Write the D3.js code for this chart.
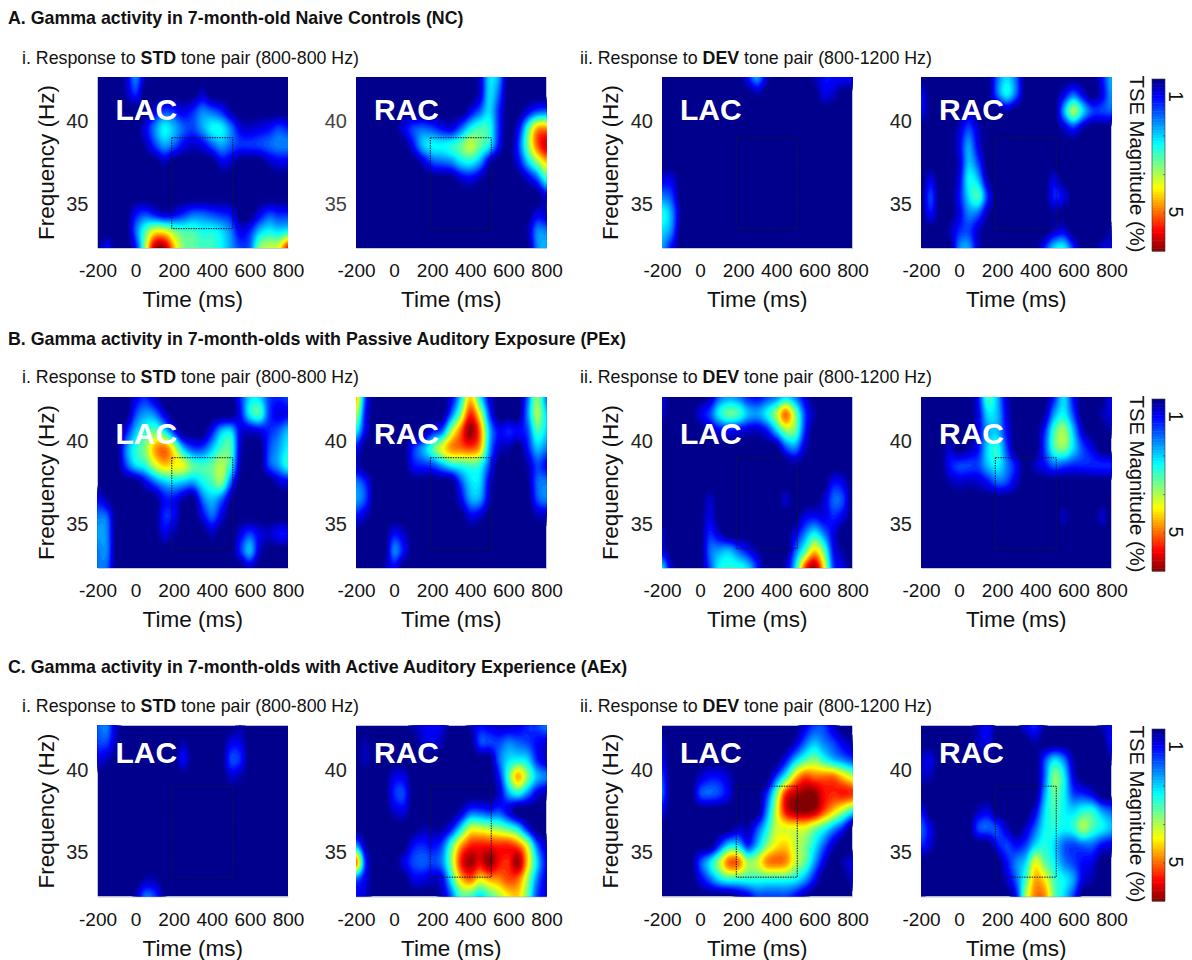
<!DOCTYPE html>
<html>
<head>
<meta charset="utf-8">
<title>Gamma activity</title>
<script src="https://cdn.jsdelivr.net/npm/d3@7/dist/d3.min.js"></script>
<style>
  body { margin: 0; background: #fff; }
  svg { display: block; font-family: "Liberation Sans", Arial, sans-serif; }
</style>
</head>
<body>
<svg id="chart" width="1192" height="960"></svg>
<script>
// ── Data: TSE magnitude (top row = highest frequency) ──
const TIMES = d3.range(-200, 801, 50);
const FREQS = [42.67, 41.63, 40.6, 39.57, 38.53, 37.5, 36.47, 35.43, 34.4, 33.37, 32.33];
const TICKS_X = [-200, 0, 200, 400, 600, 800];
const TICKS_Y = [35, 40];
const WINDOW_MS = [190, 510];
const WINDOW_HZ = [33.5, 39];

const A_STD_LAC = [
  [0,0,0,.6,1.8,.4,0,0,0,0,0,0,0,0,0,0,0,0,0,0,0],
  [0,0,0,.4,1.2,0,0,0,0,0,0,.6,0,0,0,0,0,0,0,0,0],
  [0,0,0,0,0,0,.8,1.4,1.2,.8,1.2,1.8,1.6,1.2,.4,0,0,0,0,0,0],
  [0,0,0,0,0,.8,1.8,2.6,2.2,1.6,1.4,2,2.6,2.6,1.8,.8,.6,.8,1,1.4,1.2],
  [0,0,0,0,0,.4,1.3,2,1.6,.9,.6,.8,1.5,2,1.6,1.3,1.3,1.4,1.6,1.8,1.8],
  [0,0,0,0,0,0,0,.5,0,0,0,0,0,.8,.6,0,0,0,.5,.8,.8],
  [0,0,0,0,0,0,0,0,0,0,0,0,0,0,0,0,0,0,0,0,0],
  [0,0,0,0,0,0,0,0,0,0,0,0,0,0,0,0,0,0,0,0,0],
  [0,0,0,0,1,1.4,1,.6,.8,1.2,1.6,1.6,1.4,1.2,1,0,0,.8,1.4,1.2,1.2],
  [0,0,0,0,1.6,3,4,4,3.4,3,3,2.7,2.7,2.4,1.8,.8,1.2,2.2,2.6,2.4,2.6],
  [0,1,0,0,1,3.5,6,6.2,4.6,3.4,3.2,3,3,2.6,2,1.4,1.6,3.4,3.8,4,5.5]
];
const A_STD_RAC = [
  [0,0,0,0,0,0,0,0,0,0,0,0,0,.6,2.4,2,0,0,0,0,0],
  [0,0,0,0,0,0,0,0,0,0,0,0,0,.6,2.4,1.6,0,0,0,0,0],
  [0,0,0,0,0,0,0,0,0,0,0,0,.8,1.6,2.4,1.2,0,0,.8,1.4,1.6],
  [0,0,0,0,0,.8,1.4,1.6,1.4,1,.8,1.6,2.6,3,2.8,1.2,0,.8,2.8,4.6,4.8],
  [0,0,0,0,0,0,1,2.2,2.6,2.6,2.8,3.2,3.8,3.2,2.6,1,0,1.2,3.2,5,5.9],
  [0,0,0,0,0,0,0,.6,1.4,1.6,1.8,2.4,2.6,2,.6,0,0,.8,2.2,3.4,4.4],
  [0,0,0,0,0,0,0,0,0,0,0,.6,.8,.4,0,0,0,0,.6,1.4,2.8],
  [0,0,0,0,0,0,0,0,0,0,0,0,0,0,0,0,0,0,0,0,.8],
  [0,0,0,0,0,0,0,0,0,0,0,0,0,0,0,0,0,0,0,.8,.6],
  [0,0,0,0,0,0,0,0,0,0,0,0,0,0,0,0,0,0,.4,1.8,1.8],
  [0,0,0,0,0,0,0,0,0,0,0,0,0,0,0,0,0,0,0,1.8,2.2]
];
const A_DEV_LAC = [
  [0,0,0,0,0,0,0,0,0,1,2,.6,0,0,0,0,.4,1,1,1,1],
  [0,0,0,0,0,0,0,0,0,0,.4,0,0,0,0,0,0,.8,.6,0,0],
  [0,0,0,0,0,0,0,0,0,0,0,0,0,0,0,0,0,0,0,0,0],
  [0,0,0,0,0,0,0,0,0,0,0,0,0,0,0,0,0,0,0,0,0],
  [0,0,0,0,0,0,0,0,0,0,0,0,0,0,0,0,0,0,0,0,0],
  [0,0,0,0,0,0,0,0,0,0,0,0,0,0,0,0,0,0,0,0,0],
  [.8,.8,0,0,0,0,0,0,0,0,0,0,0,0,0,0,0,0,0,0,0],
  [1.8,1.4,0,0,0,0,0,0,0,0,0,0,0,0,0,0,0,0,0,0,0],
  [2.8,2,.3,0,0,0,0,0,0,0,0,0,0,0,0,0,0,0,0,0,0],
  [2.4,1.8,0,0,0,0,0,0,0,0,0,0,0,0,0,0,0,0,0,0,0],
  [2,1,0,0,0,0,0,0,0,0,0,0,0,0,0,0,0,0,0,0,0]
];
const A_DEV_RAC = [
  [0,0,0,0,0,0,0,0,1.6,2.4,1.6,0,0,0,0,0,0,0,0,1,2.2],
  [1,0,0,0,0,0,0,0,1.6,2.6,1.6,0,0,0,0,.8,1.6,.8,0,.8,2],
  [1,0,0,0,0,.6,0,0,0,.4,0,0,0,0,0,2,3.6,2.4,1.4,1.4,1.6],
  [0,0,0,0,.6,1.4,.6,0,0,0,0,0,0,0,0,.6,1.2,.4,0,0,0],
  [0,0,0,0,.8,2,.8,0,0,0,0,0,0,0,0,0,0,0,0,0,0],
  [0,0,0,0,.6,2.2,1.4,0,0,0,0,0,0,0,0,0,0,0,0,0,0],
  [0,.8,0,0,.8,2.6,2.2,.4,0,0,0,0,0,0,.8,0,0,0,0,0,0],
  [0,1.4,0,0,1,2.4,3,1.2,0,0,0,0,0,0,1.2,.8,0,0,0,0,0],
  [0,1,0,0,.8,1.8,1.6,.4,0,0,0,0,0,0,.3,0,0,0,0,0,0],
  [0,0,0,.4,1.2,1.4,.6,0,0,0,0,0,0,0,.6,.8,0,0,0,0,.4],
  [0,0,0,0,1.8,2,.6,0,0,0,0,0,0,1.2,2.4,2.6,1.2,0,0,.6,.8]
];

const B_STD_LAC = [
  [0,0,0,0,.8,1.2,.6,0,0,0,0,0,0,0,0,1.2,2.4,2.4,1.4,1.2,1.4],
  [0,0,0,0,1.4,2,1.8,.8,0,0,0,0,0,0,0,1,2.6,3,1.4,.8,1],
  [0,0,0,1,2.2,2.8,3.2,2.6,1.2,0,0,0,1,2.2,2.4,.8,.6,.8,1.2,1.6,2.2],
  [0,0,0,1.8,2.8,3.4,4.6,5,4,2.2,1.4,1.4,2.2,3,3,.6,0,0,1.4,2,2.6],
  [0,0,0,1.4,2.4,2.8,3.8,4.4,4.2,4,3.2,3,3.2,3.7,2.8,.4,0,0,1.4,2,2.8],
  [0,0,0,0,0,.8,1.6,2.2,2.4,2.2,2,2.6,3,3.4,1.6,0,0,0,0,.6,.8],
  [1,.4,0,0,0,0,0,1,1,.4,0,1.6,2.2,1.6,.4,0,0,0,0,0,0],
  [1.8,1.6,0,0,0,0,0,1.2,1,0,0,.8,1.6,.8,0,0,0,0,0,0,0],
  [2,1.8,0,0,0,0,0,.8,.4,0,0,0,.5,0,0,.8,1.4,.8,.6,1,1],
  [1.8,1.8,0,0,0,0,0,0,0,0,0,0,0,0,0,1.2,2.2,.6,0,0,0],
  [1.8,1.6,0,0,0,0,0,0,0,0,0,0,0,0,0,0,.6,0,0,0,0]
];
const B_STD_RAC = [
  [4.6,1.4,0,0,0,0,0,0,0,0,.8,2.4,4.4,2.6,.8,0,0,0,1.6,3.4,1.8],
  [3.8,1,0,0,0,0,0,0,0,0,1.6,3.4,5.4,4,1.4,0,0,0,1.8,3.6,2.4],
  [2.6,.8,0,0,0,0,0,0,1,1.6,3.6,5,6.3,5,2.2,1,1.2,1,1.4,3,2.4],
  [1,0,0,0,0,0,1.2,2,3,4,4.8,5,5.2,4.6,2,.6,.4,0,1,2.2,1.8],
  [.6,0,0,0,0,0,1,1.2,1.4,2,2.6,2.8,3,2.8,1.4,0,0,0,.4,1.4,1],
  [1.8,1.2,0,0,0,0,0,0,0,0,0,1.4,2.4,2.4,.8,0,0,0,.2,1.6,1.8],
  [2,1.4,0,0,0,0,0,0,0,0,0,.8,2,2,.6,0,0,0,0,1.4,1.8],
  [1,.5,0,0,0,0,0,0,0,0,0,0,.8,.6,0,0,0,0,0,.4,.5],
  [0,0,0,0,1,.6,0,0,0,0,0,0,0,0,0,0,0,0,0,0,0],
  [0,0,0,0,1.8,1,0,0,0,0,0,0,0,0,0,0,0,0,0,0,0],
  [0,0,0,.4,.9,0,0,0,0,0,0,0,0,0,0,0,0,0,0,0,0]
];
const B_DEV_LAC = [
  [.8,0,0,0,0,.4,1.6,2,1.8,1.2,1,1.4,1.8,2.4,1.8,.8,0,0,0,0,0],
  [.6,0,0,0,.8,1.4,2.6,3.2,3,2.2,2,2.6,3.6,5,3.4,1.4,.4,0,0,0,0],
  [0,0,0,0,0,.4,.8,1,.8,.6,.5,1,2.2,3.4,3.2,1.2,0,0,0,0,0],
  [0,0,0,0,0,0,0,0,0,0,0,0,0,1.4,1.8,.6,0,0,0,0,0],
  [0,0,0,0,0,0,0,0,0,0,0,0,0,0,.3,0,0,0,0,0,0],
  [0,0,0,0,0,0,0,0,0,0,0,0,0,0,0,0,0,0,1,.8,0],
  [0,0,0,0,0,.6,0,0,0,0,0,0,0,.6,0,0,0,.6,1.6,1.4,0],
  [0,0,0,0,0,.8,0,0,0,0,0,0,0,0,0,.8,1,.8,1.2,.8,0],
  [.5,0,0,0,0,1.2,.6,0,0,0,0,0,0,0,.8,1.8,2.6,1.8,.8,0,0],
  [.8,0,0,0,0,1.6,2,2.2,1.6,1,.4,0,0,0,1.6,3,4.4,3.2,1,.3,0],
  [2.4,.6,0,0,0,1.4,2.6,2.8,2.8,2.4,1.2,0,0,.6,2.4,5.2,6.2,4.2,1.4,.8,0]
];
const B_DEV_RAC = [
  [0,0,0,0,0,0,1,3,2.2,.6,0,0,0,0,1.2,2.4,1,0,0,0,1],
  [0,0,0,0,0,0,.8,2.4,2.2,.8,0,0,0,.4,2,2.6,1.4,0,0,.4,.8],
  [0,0,0,0,0,0,.8,2,2.2,1,0,0,0,1.2,3,3.6,2.2,.6,0,0,.4],
  [0,0,0,.6,0,.4,1,2.4,2.8,1.4,0,0,0,1.4,3,3.4,2.4,1.4,.8,0,0],
  [0,0,0,1,1.4,1.4,1.4,2.2,2.6,1.8,1,0,.6,1,1.6,1.4,1.2,1.2,1.2,1.2,1.2],
  [0,0,0,.4,.6,.5,.6,1,1.6,1.4,.6,0,0,0,0,0,0,0,0,0,0],
  [0,0,0,0,0,0,0,0,0,0,0,0,0,0,0,0,0,0,0,0,0],
  [0,0,0,0,0,0,0,0,0,0,0,0,0,0,0,.5,0,0,0,.6,0],
  [0,0,0,0,0,0,0,0,0,0,0,0,0,0,0,0,0,0,0,0,0],
  [0,0,0,0,0,0,0,0,0,0,0,0,0,0,0,0,0,0,0,0,0],
  [0,0,0,0,0,0,0,0,0,0,0,0,0,0,0,0,0,0,0,0,0]
];

const C_STD_LAC = [
  [1.6,1.8,.5,0,0,0,0,0,0,0,0,0,0,0,0,.3,0,0,0,0,0],
  [1.4,1.4,.4,0,0,0,0,0,0,.4,0,0,0,0,.8,.8,0,0,0,0,0],
  [.8,.5,0,0,0,0,0,0,0,1,0,0,0,0,1.4,1.2,0,0,0,0,0],
  [0,0,0,0,0,0,0,0,0,0,0,0,0,0,.6,.4,0,0,0,0,0],
  [0,0,0,0,0,0,0,0,0,0,0,0,0,0,0,0,0,0,0,0,0],
  [0,0,0,0,0,0,0,0,0,0,0,0,0,0,0,0,0,0,0,0,0],
  [0,0,0,0,0,0,0,0,0,0,0,0,0,0,0,0,0,0,0,0,0],
  [0,0,0,0,0,0,0,0,0,0,0,0,0,0,0,0,0,0,0,0,0],
  [0,0,0,0,0,0,0,0,0,0,0,0,0,0,0,0,0,0,0,0,0],
  [0,0,0,0,0,.4,.4,0,0,0,0,0,0,0,0,0,0,0,0,0,0],
  [0,0,0,0,.4,1.7,1.4,.3,0,0,0,0,0,0,0,0,0,0,0,0,0]
];
const C_STD_RAC = [
  [0,0,0,0,0,0,.4,.8,1,.8,0,0,.4,1,.8,.6,.6,.8,1.2,1.4,1.8],
  [0,.4,0,0,0,0,0,.6,.8,.4,0,0,0,1.4,1.4,1.4,1.8,1.6,1.4,1,.8],
  [0,.5,0,0,0,0,0,0,0,0,0,0,0,0,0,1.6,2.4,2.6,2.4,1.2,.6],
  [0,0,0,0,.8,.8,0,0,0,0,0,0,0,0,0,1,3,4.6,3.4,2.2,1.8],
  [0,0,0,0,1.2,1.4,0,0,0,0,0,0,0,0,0,.6,2,2.6,1.8,.8,.4],
  [0,0,0,0,.6,.8,0,0,0,0,0,.5,1.4,1.4,1.2,1.4,.8,0,0,0,0],
  [0,0,0,0,0,0,0,.4,.3,.3,1,2.4,3.8,3.8,3.6,3.4,3,2.4,1,0,0],
  [2,.4,0,0,0,0,1,1.2,1,1.4,3,4.6,5.4,5.5,5.5,5.4,5.4,5,3.8,1.6,.6],
  [5,1.2,0,0,0,.8,1.4,1.6,1.4,1.8,3.4,5.4,6.2,5.7,6.3,5.6,5.4,6.2,4.4,2.4,1],
  [1.6,.8,0,0,0,0,.8,.8,.6,.8,2.6,4.4,5,4.2,4.6,4.8,5.2,5,3.6,1.8,.8],
  [1,.6,0,0,0,0,0,0,0,.5,1.6,3,3,2.4,3,3.6,4.2,4.4,3.2,1.4,.8]
];
const C_DEV_LAC = [
  [0,0,0,0,0,0,0,0,0,0,0,0,0,0,0,.8,1.4,1.4,.6,0,0],
  [.5,0,0,0,0,0,0,0,0,0,0,0,0,0,.6,1.6,2.2,1.8,1.4,.8,.4],
  [.8,0,0,0,0,0,0,0,0,0,0,0,0,1,2.2,3,3.4,2.8,2.2,1.8,1.4],
  [1.4,0,0,0,.6,1,1,.6,0,0,0,0,1.4,2.8,4.4,5.2,5,5,5,4.4,3.8],
  [1.6,0,0,0,1.4,1.6,1.4,.8,0,0,0,1.2,3.2,5.4,6,6.3,6.3,5.6,5.4,5.5,5.4],
  [.8,0,0,0,0,0,0,0,0,0,0,1.8,3.8,5.6,6.2,6.3,6.1,5.2,4.4,3.6,2.8],
  [0,0,0,0,0,0,0,0,.6,.4,1.4,2.6,3.8,4,4,4,3.4,2.8,2,1.2,0],
  [0,0,0,0,0,0,1.2,2.4,2.4,1.2,2.2,3.4,4.2,4.4,3.8,3.4,2.6,1.6,.6,0,0],
  [0,0,0,0,1.4,2.4,3.6,5,5,3.6,3.8,4.8,5,4.8,3.8,3.2,2,.8,0,.4,.8],
  [0,0,0,0,.8,1.6,2.4,2.8,2.8,2.8,2.8,2.8,2.8,2.8,2.6,2,1,0,0,0,.6],
  [0,0,0,0,0,0,0,0,.4,.8,1.4,1.4,1.4,1.4,1,.4,0,0,0,0,0]
];
const C_DEV_RAC = [
  [0,0,0,0,0,0,.5,1,0,0,0,.8,1.2,.3,0,0,0,0,0,.4,.9],
  [0,0,0,0,0,0,.5,.8,0,0,0,0,.4,0,0,0,0,0,0,0,1],
  [.6,.8,0,0,0,0,0,0,0,0,0,0,0,1.4,2.4,1.8,.4,0,0,0,.3],
  [.6,.4,0,0,0,0,0,0,0,0,0,0,0,1.6,3.4,2.6,.8,0,0,0,0],
  [0,0,0,0,0,0,0,0,0,0,0,0,0,2,3.2,2.6,1.4,1.2,.8,0,0],
  [1,0,0,0,0,0,.5,.8,0,0,0,0,.8,2.4,3,2.6,2.4,2.8,2.8,2,1.6],
  [1.6,.8,0,0,0,0,1.4,1.6,1.4,.6,0,.6,1.6,2.6,2.8,2.6,2.8,3.6,3,2.6,2.2],
  [1.2,.6,0,0,0,0,0,0,1,1.4,1,1.4,2.4,2.8,2.4,1.6,1.4,1.6,1.6,1,.8],
  [0,0,0,0,0,0,0,0,0,1,1.8,2.4,4,3.2,2.6,1.8,1.4,1,.8,0,0],
  [0,0,0,0,0,0,0,0,0,.6,1.6,3,4.6,4.2,3,2.6,2,.8,.4,0,0],
  [.3,0,0,0,0,0,0,0,0,0,1,3.6,4.9,4.8,3.2,2.4,1.4,0,0,0,0]
];

const ROW_TITLES = [
  'A. Gamma activity in 7-month-old Naive Controls (NC)',
  'B. Gamma activity in 7-month-olds with Passive Auditory Exposure (PEx)',
  'C. Gamma activity in 7-month-olds with Active Auditory Experience (AEx)'
];
const ROW_PANELS = [
  [A_STD_LAC, A_STD_RAC, A_DEV_LAC, A_DEV_RAC],
  [B_STD_LAC, B_STD_RAC, B_DEV_LAC, B_DEV_RAC],
  [C_STD_LAC, C_STD_RAC, C_DEV_LAC, C_DEV_RAC]
];
const PANEL_NAMES = ['LAC', 'RAC', 'LAC', 'RAC'];

// ── Layout ───────────────────────────────────────────────────────────────────
const PANEL_X = [97.5, 356, 662, 921];
const PANEL_W = 190.5;
const PANEL_H = 171;
const ROW_TOP = [77, 397, 725.5];
const ROW_TITLE_Y = [24, 345, 673];
const ROW_SUB_Y = [64, 383, 712];
const ROW_NAME_Y = [120, 444, 763];
const BAR_TOP = [79, 399, 729];
const BAR_H = 172;
const BAR_TICKS = [1, 2.33, 3.67, 5];

const svg = d3.select('#chart');

// jet colormap on the TSE scale, dark blue floor, dark red ceiling
const color = d3.scaleLinear()
  .domain([0.1, 0.95, 2.55, 4.1, 5.55, 6.3])
  .range(['#00008c', '#0000ff', '#00ffff', '#ffff00', '#ff0000', '#800000'])
  .clamp(true);
const LEVELS = d3.range(0.16, 6.3, 0.12);

// ── Display smoothing of a coarse grid (same idea as imagesc + interp) ───────
function catmull(p0, p1, p2, p3, t) {
  return 0.5 * (2 * p1 + (p2 - p0) * t + (2 * p0 - 5 * p1 + 4 * p2 - p3) * t * t
    + (3 * p1 - p0 - 3 * p2 + p3) * t * t * t);
}
const SMOOTH = 5;
function upsample(rows) {
  const n = rows.length, m = rows[0].length;
  const w = (m - 1) * SMOOTH + 1, h = (n - 1) * SMOOTH + 1;
  const at = (j, i) => rows[Math.max(0, Math.min(n - 1, j))][Math.max(0, Math.min(m - 1, i))];
  const out = new Float64Array(w * h);
  for (let y = 0; y < h; y++) {
    const j = Math.min(Math.floor(y / SMOOTH), n - 2), v = y / SMOOTH - j;
    for (let x = 0; x < w; x++) {
      const i = Math.min(Math.floor(x / SMOOTH), m - 2), u = x / SMOOTH - i;
      const col = [-1, 0, 1, 2].map(d =>
        catmull(at(j + d, i - 1), at(j + d, i), at(j + d, i + 1), at(j + d, i + 2), u));
      out[y * w + x] = catmull(col[0], col[1], col[2], col[3], v);
    }
  }
  return { w, h, out };
}

function drawPanel(rows, name, px, top, nameY, showLabel, clipId, tickFill) {
  const x = d3.scaleLinear().domain([-200, 800]).range([px, px + PANEL_W]);
  const y = d3.scaleLinear().domain([32.33, 42.67]).range([top + PANEL_H, top]);
  const g = svg.append('g').attr('class', 'panel');

  svg.append('clipPath').attr('id', clipId).append('rect')
    .attr('x', px).attr('y', top).attr('width', PANEL_W).attr('height', PANEL_H);

  const maps = g.append('g').attr('clip-path', `url(#${clipId})`);
  maps.append('rect')
    .attr('x', px).attr('y', top).attr('width', PANEL_W).attr('height', PANEL_H)
    .attr('fill', color(0));

  const grid = upsample(rows);
  const colToTime = d3.scaleLinear().domain([0, TIMES.length - 1]).range([TIMES[0], TIMES[TIMES.length - 1]]);
  const rowToFreq = d3.scaleLinear().domain([0, FREQS.length - 1]).range([FREQS[0], FREQS[FREQS.length - 1]]);
  const project = d3.geoTransform({
    point(cx, cy) {
      this.stream.point(x(colToTime((cx - 0.5) / SMOOTH)), y(rowToFreq((cy - 0.5) / SMOOTH)));
    }
  });
  const path = d3.geoPath(project);
  const bands = d3.contours().size([grid.w, grid.h]).smooth(true).thresholds(LEVELS)(grid.out)
    .filter(d => d.coordinates.length);
  maps.selectAll('path').data(bands).join('path')
    .attr('d', path)
    .attr('fill', d => color(d.value))
    .attr('stroke', d => color(d.value))
    .attr('stroke-width', 0.3);

  // analysis window
  g.append('rect')
    .attr('x', x(WINDOW_MS[0])).attr('y', y(WINDOW_HZ[1]))
    .attr('width', x(WINDOW_MS[1]) - x(WINDOW_MS[0]))
    .attr('height', y(WINDOW_HZ[0]) - y(WINDOW_HZ[1]))
    .attr('fill', 'none').attr('stroke', '#14143c')
    .attr('stroke-width', 1).attr('stroke-dasharray', '1.5,1');

  g.append('text')
    .attr('x', px + 18).attr('y', nameY)
    .attr('fill', '#fff').style('font-size', '30px').style('font-weight', '700')
    .text(name);

  // axes
  const xAxis = g.append('g').attr('transform', `translate(0,${top + PANEL_H})`)
    .call(d3.axisBottom(x).tickValues(TICKS_X).tickFormat(d => String(d)).tickSize(0).tickPadding(16));
  xAxis.select('.domain').attr('stroke', '#9aa').attr('stroke-width', 0.6);
  xAxis.selectAll('text').attr('fill', '#111').style('font-size', '19px');

  const yAxis = g.append('g').attr('transform', `translate(${px},0)`)
    .call(d3.axisLeft(y).tickValues(TICKS_Y).tickSize(0).tickPadding(9));
  yAxis.select('.domain').remove();
  yAxis.selectAll('text').attr('fill', tickFill).style('font-size', '20px');

  g.append('text')
    .attr('x', px + PANEL_W / 2).attr('y', top + PANEL_H + 59)
    .attr('text-anchor', 'middle').attr('fill', '#111').style('font-size', '22.5px')
    .text('Time (ms)');

  if (showLabel) {
    g.append('text')
      .attr('transform', `translate(${px - 44},${top + PANEL_H / 2}) rotate(-90)`)
      .attr('text-anchor', 'middle').attr('fill', '#111').style('font-size', '22.5px')
      .text('Frequency (Hz)');
  }
}

function drawColorbar(top) {
  const barX = 1152, barW = 13;
  const y = d3.scaleLinear().domain([0.1, 1, 5, 6.3]).range([top, top + 18.5, top + 134, top + BAR_H]);
  const steps = d3.range(64).map(i => y.invert(top + i * BAR_H / 64));
  const g = svg.append('g').attr('class', 'colorbar');
  g.selectAll('rect').data(steps).join('rect')
    .attr('x', barX).attr('y', d => y(d))
    .attr('width', barW).attr('height', BAR_H / 64 + 0.5)
    .attr('fill', d => color(d));
  g.selectAll('line').data(BAR_TICKS).join('line')
    .attr('x1', barX + barW - 2).attr('x2', barX + barW)
    .attr('y1', d => y(d)).attr('y2', d => y(d))
    .attr('stroke', '#333').attr('stroke-width', 0.6);
  g.append('rect')
    .attr('x', barX).attr('y', top).attr('width', barW).attr('height', BAR_H)
    .attr('fill', 'none').attr('stroke', '#333').attr('stroke-width', 0.6);
  g.selectAll('.bar-tick').data([1, 5]).join('text')
    .attr('class', 'bar-tick')
    .attr('transform', d => `translate(${barX + barW + 4},${y(d) - 1}) rotate(90)`)
    .attr('text-anchor', 'middle').attr('fill', '#111').style('font-size', '19.5px')
    .text(d => d);
  g.append('text')
    .attr('transform', `translate(1130,${top + BAR_H / 2 - 1}) rotate(90)`)
    .attr('text-anchor', 'middle').attr('fill', '#111').style('font-size', '20.3px')
    .text('TSE Magnitude (%)');
}

function drawSubtitle(px, y, prefix, bold, suffix) {
  const t = svg.append('text').attr('x', px).attr('y', y)
    .attr('fill', '#111').style('font-size', '17.8px');
  t.append('tspan').text(prefix);
  t.append('tspan').style('font-weight', '700').text(bold);
  t.append('tspan').text(suffix);
}

// ── Build all three rows ─────────────────────────────────────────────────────
ROW_TITLES.forEach((title, r) => {
  svg.append('text').attr('x', 8).attr('y', ROW_TITLE_Y[r])
    .attr('fill', '#111').style('font-size', '17.8px').style('font-weight', '700')
    .text(title);
  drawSubtitle(22, ROW_SUB_Y[r], 'i. Response to ', 'STD', ' tone pair (800-800 Hz)');
  drawSubtitle(580, ROW_SUB_Y[r], 'ii. Response to ', 'DEV', ' tone pair (800-1200 Hz)');

  ROW_PANELS[r].forEach((rows, p) => {
    const tickFill = r === 0 && p === 1 ? '#444' : '#222';
    drawPanel(rows, PANEL_NAMES[p], PANEL_X[p], ROW_TOP[r], ROW_NAME_Y[r], p % 2 === 0, `clip-${r}-${p}`, tickFill);
  });
  drawColorbar(BAR_TOP[r]);
});
</script>
</body>
</html>
